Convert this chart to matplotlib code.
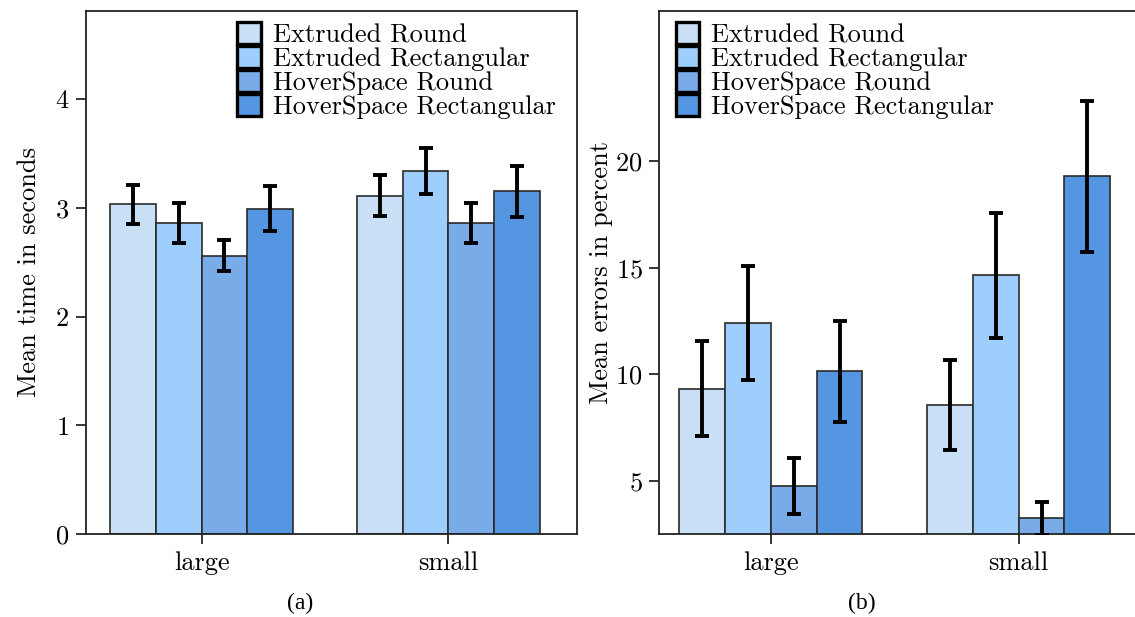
import numpy as np
import matplotlib
matplotlib.use('Agg')
import matplotlib.pyplot as plt

plt.rcParams['font.family'] = 'cmr10'
plt.rcParams['axes.formatter.use_mathtext'] = True
plt.rcParams['axes.unicode_minus'] = False

# dati
categorie = ['large', 'small']
serie = ['Extruded Round', 'Extruded Rectangular', 'HoverSpace Round', 'HoverSpace Rectangular']
colori = ['#c8dff5', '#9ecefc', '#79abe9', '#5596e3']

tempo_medio = [[3.03, 3.11], [2.86, 3.34], [2.56, 2.86], [2.99, 3.15]]
tempo_err = [[0.18, 0.19], [0.185, 0.21], [0.145, 0.18], [0.205, 0.235]]

errori_medi = [[9.33, 8.58], [12.42, 14.65], [4.78, 3.25], [10.15, 19.29]]
errori_err = [[2.23, 2.12], [2.67, 2.92], [1.32, 0.77], [2.36, 3.54]]

fig = plt.figure(figsize=(11.35, 6.17), dpi=100)
ax1 = fig.add_axes([0.0755, 0.134, 0.4326, 0.8488])
ax2 = fig.add_axes([0.581, 0.134, 0.430, 0.8488])

w = 0.185
x = np.arange(len(categorie))
fs = 19


def disegna(ax, medie, errs):
    for i in range(len(serie)):
        pos = x + (i - 1.5) * w
        ax.bar(pos, medie[i], w, color=colori[i], edgecolor='#2a2a2a',
               linewidth=1.2, label=serie[i], zorder=2)
        ax.errorbar(pos, medie[i], yerr=errs[i], fmt='none', ecolor='black',
                    elinewidth=2.8, capsize=5, capthick=2.8, zorder=3)
    ax.set_xticks(x)
    ax.set_xticklabels(categorie)
    ax.tick_params(direction='out', length=7, width=1.1, labelsize=fs,
                   top=False, right=False, pad=5)
    for s in ax.spines.values():
        s.set_linewidth(1.3)
        s.set_color('#222222')
    leg = ax.legend(frameon=False, fontsize=fs, labelspacing=-0.04,
                    handlelength=0.9, handleheight=0.9, handletextpad=0.45,
                    borderpad=0, borderaxespad=0, loc='upper left')
    for h in leg.legend_handles:
        h.set_edgecolor('black')
        h.set_linewidth(2.4)
    return leg


leg1 = disegna(ax1, tempo_medio, tempo_err)
leg1.set_bbox_to_anchor((0.308, 0.978), transform=ax1.transAxes)
ax1.set_xlim(-0.47, 1.52)
ax1.set_ylim(0, 4.81)
ax1.set_yticks([0, 1, 2, 3, 4])
ax1.set_ylabel('Mean time in seconds', fontsize=fs, labelpad=10)

leg2 = disegna(ax2, errori_medi, errori_err)
leg2.set_bbox_to_anchor((0.033, 0.978), transform=ax2.transAxes)
ax2.set_xlim(-0.449, 1.52)
ax2.set_ylim(2.5, 27.07)
ax2.set_yticks([5, 10, 15, 20])
ax2.set_ylabel('Mean errors in percent', fontsize=fs, labelpad=2)

fig.text(300 / 1135, 1 - 603 / 617, '(a)', ha='center', va='center',
         family='Liberation Serif', fontsize=17)
fig.text(862 / 1135, 1 - 603 / 617, '(b)', ha='center', va='center',
         family='Liberation Serif', fontsize=17)

fig.savefig('out.png', dpi=100)
